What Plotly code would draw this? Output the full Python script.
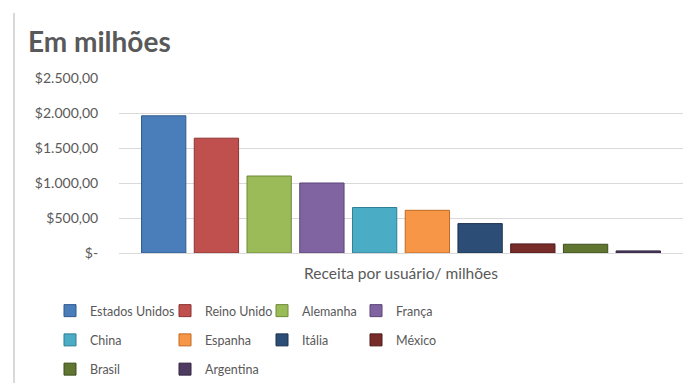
import plotly.graph_objects as go

countries = ["Estados Unidos", "Reino Unido", "Alemanha", "França", "China",
             "Espanha", "Itália", "México", "Brasil", "Argentina"]
values = [1960, 1640, 1100, 1000, 650, 610, 420, 130, 125, 30]
colors = ["#4a7ebb", "#c0504d", "#9bbb59", "#8064a2", "#4bacc6",
          "#f79646", "#2c4d75", "#772c2a", "#5f7530", "#4d3b62"]
outlines = ["#2f5a8e", "#8c3331", "#6f8a3a", "#5a4478", "#2f7f95",
            "#c06a25", "#1b3350", "#4e1a19", "#3f4f1e", "#322640"]
category = ["Receita por usuário/ milhões"]
tick_vals = [0, 500, 1000, 1500, 2000, 2500]
tick_text = ["$-", "$500,00", "$1.000,00", "$1.500,00", "$2.000,00", "$2.500,00"]

W, H = 691, 383
ML, MR, MT, MB = 119, 8, 78, 130
FONT = "Lato, Open Sans, sans-serif"
GREY = "#595959"

# legend laid out in 4 columns (one plotly legend per column)
legend_names = ["legend", "legend2", "legend3", "legend4"]
col_x = [50, 165, 262, 356]

fig = go.Figure()
for i, (c, v) in enumerate(zip(countries, values)):
    fig.add_trace(go.Bar(
        x=category, y=[v], name=c, legendgroup=c,
        marker=dict(color=colors[i], line=dict(color=outlines[i], width=1)),
        legend=legend_names[i % 4],
    ))

leg_common = dict(orientation="v", xref="container", yref="container",
                  xanchor="left", yanchor="top",
                  font=dict(family=FONT, size=12.5, color=GREY),
                  itemwidth=30, bgcolor="rgba(0,0,0,0)", tracegroupgap=10,
                  borderwidth=0)
LEG_TOP = 296

legends = {}
for k, name in enumerate(legend_names):
    legends[name] = dict(leg_common, x=col_x[k] / W, y=1 - LEG_TOP / H)

fig.update_layout(
    width=W, height=H,
    margin=dict(l=ML, r=MR, t=MT, b=MB, autoexpand=False),
    paper_bgcolor="white", plot_bgcolor="white",
    barmode="group", bargap=0.065, bargroupgap=0.16,
    title=dict(text="<b>Em milhões</b>", x=28 / W, xanchor="left",
               y=1 - 42 / H, yanchor="middle",
               font=dict(family=FONT, size=28, color=GREY)),
    font=dict(family=FONT, color=GREY),
    showlegend=True,
    **legends,
    xaxis=dict(showgrid=False, showline=False, zeroline=False,
               tickfont=dict(family=FONT, size=15.5, color=GREY),
               ticks="outside", ticklen=6, tickcolor="rgba(0,0,0,0)"),
    yaxis=dict(range=[0, 2500], tickvals=tick_vals, ticktext=tick_text,
               showgrid=True, gridcolor="#d9d9d9", gridwidth=1,
               zeroline=True, zerolinecolor="#d9d9d9", zerolinewidth=1,
               showline=False,
               tickfont=dict(family=FONT, size=14, color=GREY),
               ticks="outside", ticklen=17, tickcolor="rgba(0,0,0,0)"),
    shapes=[dict(type="line", xref="paper", yref="paper",
                 x0=(14 - ML) / (W - ML - MR), x1=(14 - ML) / (W - ML - MR),
                 y0=(H - MB - 13) / (H - MT - MB), y1=(H - MB - H) / (H - MT - MB),
                 line=dict(color="#d9d9d9", width=2))],
)

fig.write_html("out.html")
